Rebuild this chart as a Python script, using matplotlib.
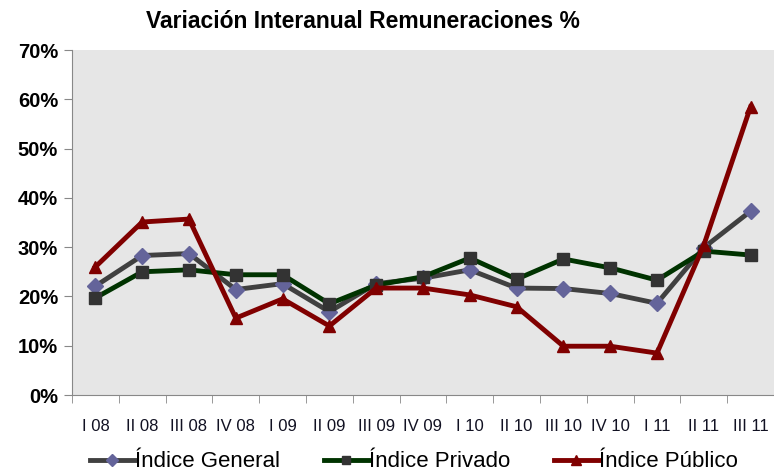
import numpy as np
import matplotlib
matplotlib.use("Agg")
from matplotlib import pyplot as plt
from matplotlib.ticker import FixedLocator, PercentFormatter

plt.rcParams['font.family'] = ['Liberation Sans', 'DejaVu Sans']

#Trimestres
trimestres = ['I 08', 'II 08', 'III 08', 'IV 08', 'I 09', 'II 09', 'III 09', 'IV 09',
              'I 10', 'II 10', 'III 10', 'IV 10', 'I 11', 'II 11', 'III 11']
#Variación interanual (%)
general = [22.1, 28.3, 28.7, 21.4, 22.6, 16.9, 22.6, 23.7, 25.4, 21.7, 21.6, 20.6, 18.6, 29.9, 37.3]
privado = [19.7, 25.0, 25.4, 24.4, 24.4, 18.5, 22.3, 24.0, 27.8, 23.5, 27.6, 25.8, 23.3, 29.2, 28.4]
publico = [26.0, 35.1, 35.7, 15.6, 19.5, 14.0, 21.7, 21.7, 20.3, 17.9, 9.9, 9.9, 8.5, 30.4, 58.5]

fig = plt.figure(figsize=(7.74, 4.75), dpi=100)
ax = fig.add_axes([0.093, 0.1684, 0.907, 0.7263])
ax.set_facecolor('#E6E6E6')

x = np.arange(len(trimestres))
ax.plot(x, general, color='#404040', lw=3.5, marker='D', ms=8.5,
        mfc='#64649A', mec='#64649A', label='Índice General', zorder=3)
ax.plot(x, privado, color='#003300', lw=3.5, marker='s', ms=8.5,
        mfc='#333333', mec='#333333', label='Índice Privado', zorder=3)
ax.plot(x, publico, color='#800000', lw=3.5, marker='^', ms=9,
        mfc='#800000', mec='#800000', label='Índice Público', zorder=4)

ax.set_xlim(-0.5, len(trimestres) - 0.5)
ax.set_ylim(0, 70)
ax.set_yticks(np.arange(0, 71, 10))
ax.yaxis.set_major_formatter(PercentFormatter(decimals=0))

ax.set_xticks(x)
ax.set_xticklabels(trimestres, color='#111122', fontsize=12)
ax.xaxis.set_minor_locator(FixedLocator(np.arange(-0.5, len(trimestres), 1)))
ax.tick_params(axis='x', which='major', length=0, pad=17)
ax.tick_params(axis='x', which='minor', length=6, color='#888888')
ax.tick_params(axis='y', length=6, color='#888888', labelsize=14.5, pad=4)
for lab in ax.get_yticklabels():
    lab.set_fontweight('bold')

for s in ['top', 'right']:
    ax.spines[s].set_visible(False)
ax.spines['left'].set_color('#888888')
ax.spines['bottom'].set_color('#888888')

fig.text(0.469, 0.955, 'Variación Interanual Remuneraciones %', ha='center', va='center',
         fontsize=16.5, fontweight='bold')

leg = ax.legend(loc='center', bbox_to_anchor=(0.487, -0.194), ncol=3, frameon=False,
                fontsize=16, handlelength=2.0, handletextpad=0.0, columnspacing=2.0,
                markerscale=0.75)

fig.savefig('out.png', dpi=100)
